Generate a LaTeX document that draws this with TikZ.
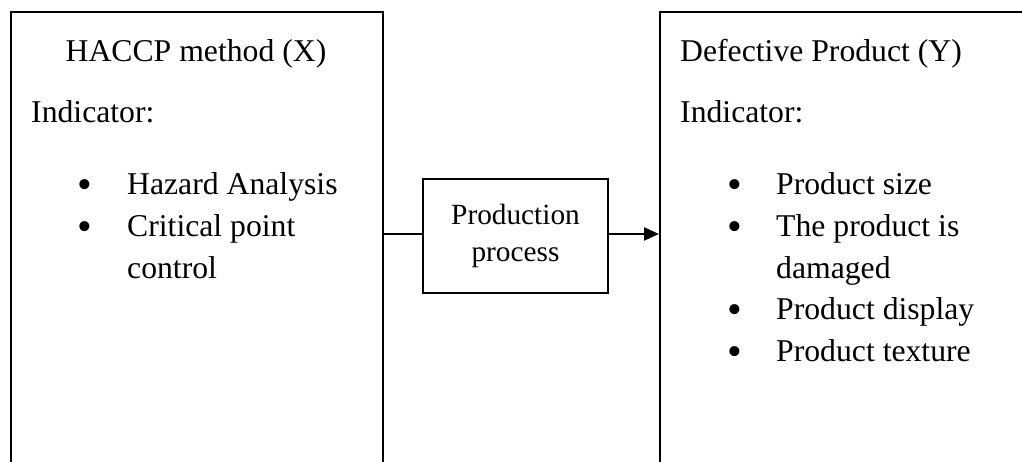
\documentclass[tikz,border=0pt]{standalone}
\usepackage{fontspec}
\setmainfont{Liberation Serif}
\usetikzlibrary{arrows.meta}
\begin{document}
\begin{tikzpicture}[x=1pt,y=-1pt,
  panel/.style={draw, line width=2.2pt, rectangle, anchor=north west, inner sep=0pt},
  procbox/.style={draw, line width=2.2pt, rectangle, align=center, inner sep=0pt,
    font=\fontsize{29.3pt}{37pt}\selectfont},
  txt/.style={anchor=base west, inner sep=0pt, font=\fontsize{31.7pt}{38pt}\selectfont},
  headc/.style={anchor=base, inner sep=0pt, font=\fontsize{31.7pt}{38pt}\selectfont},
  dot/.style={anchor=base, inner sep=0pt, yshift=-4pt, font=\fontsize{42pt}{44pt}\selectfont},
  link/.style={line width=2.2pt},
  arrowlink/.style={line width=2.2pt, -{Triangle[length=15pt,width=13pt]}}
]
\useasboundingbox (0,0) rectangle (1022,462);
\clip (0,0) rectangle (1022,462);

% the two framed panels, both running past the page edge
\node[panel, minimum width=372pt, minimum height=520pt] (haccp) at (10,11) {};
\node[panel, minimum width=420pt, minimum height=520pt] (defect) at (659,11) {};

% process box between the panels
\node[procbox, minimum width=185pt, minimum height=114pt] (proc) at (515.5,236) {Production\\process};

% connectors
\draw[link] (proc.west |- 0,234) -- (haccp.east |- 0,234);
\draw[arrowlink] (proc.east |- 0,234) -- (defect.west |- 0,234);

% left panel text
\node[headc] (hx) at (196,62) {HACCP method (X)};
\node[txt] (hind) at (31,123) {Indicator:};
\node[dot] (hb1) at (85,195) {•};
\node[txt] (ht1) at (127,195) {Hazard Analysis};
\node[dot] (hb2) at (85,236.5) {•};
\node[txt] (ht2) at (127,236.5) {Critical point};
\node[txt] (ht3) at (127,278) {control};

% right panel text
\node[txt] (dy) at (680,62) {Defective Product (Y)};
\node[txt] (dind) at (680,123) {Indicator:};
\node[dot] (db1) at (735,195) {•};
\node[txt] (dt1) at (776,195) {Product size};
\node[dot] (db2) at (735,236.5) {•};
\node[txt] (dt2) at (776,236.5) {The product is};
\node[txt] (dt3) at (776,278) {damaged};
\node[dot] (db3) at (735,319.5) {•};
\node[txt] (dt4) at (776,319.5) {Product display};
\node[dot] (db4) at (735,361) {•};
\node[txt] (dt5) at (776,361) {Product texture};
\end{tikzpicture}
\end{document}
